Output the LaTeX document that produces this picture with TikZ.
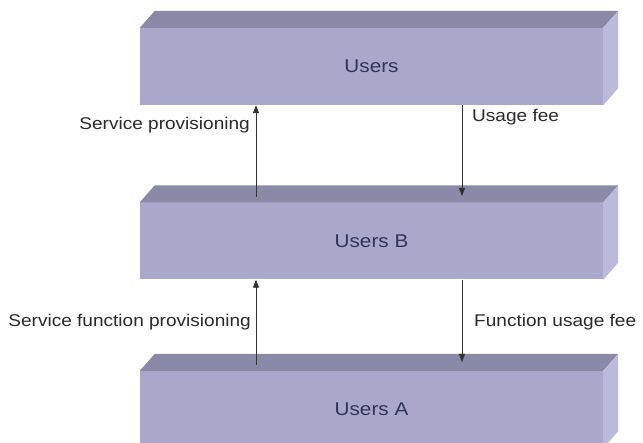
\documentclass[tikz,border=0pt]{standalone}
\usepackage{fontspec}
\setmainfont{Liberation Sans}
\newfontfamily\lblfont[FakeStretch=1.12]{Liberation Sans}
\usetikzlibrary{arrows.meta,calc}
\definecolor{frontc}{HTML}{A9A8CB}
\definecolor{topc}{HTML}{8B89A8}
\definecolor{sidec}{HTML}{BBBADB}
\definecolor{boxtext}{HTML}{34345A}
\definecolor{lbltext}{HTML}{2A2A2A}
\tikzset{
  layerbox/.style={rectangle, fill=frontc, draw=none, minimum width=463pt, minimum height=77pt,
    inner sep=0pt, font=\lblfont\fontsize{18.5}{20}\selectfont, text=boxtext},
  topface/.style={fill=topc, draw=none},
  sideface/.style={fill=sidec, draw=none},
  flow/.style={draw=black!80, line width=0.8pt, -{Triangle[length=8pt,width=6pt]}},
  lbl/.style={font=\lblfont\fontsize{17}{19}\selectfont, text=lbltext, inner sep=0pt}
}
\begin{document}
\begin{tikzpicture}[x=1pt,y=-1pt]
\useasboundingbox (0,0) rectangle (643,443);
\clip (0,0) rectangle (643,443);
\fill[white] (0,0) rectangle (643,443);
% boxes
\foreach \nm/\cy/\txt in {uT/66.5/Users, uB/241/Users B, uA/409.5/Users A}{
  \node[layerbox] (\nm) at (371.5,\cy) {\txt};
  \fill[topface] (\nm.north west) -- ++(15,-17) -- ($(\nm.north east)+(15,-17)$) -- (\nm.north east) -- cycle;
  \fill[sideface] (\nm.north east) -- ++(15,-17) -- ($(\nm.south east)+(15,-17)$) -- (\nm.south east) -- cycle;
}
% anchors for connectors
\coordinate (l1) at (256,197);
\coordinate (r1) at (462,196);
\coordinate (l2) at (256,365);
\coordinate (r2) at (462,362);
\draw[flow] (l1) -- (l1 |- uT.south);
\draw[flow] (r1 |- uT.south) -- (r1);
\draw[flow] (l2) -- (l2 |- uB.south);
\draw[flow] (r2 |- uB.south) -- (r2);
% labels
\node[lbl, anchor=east] (t1) at (250,125) {Service provisioning};
\node[lbl, anchor=west] (t2) at (472,117) {Usage fee};
\node[lbl, anchor=east] (t3) at (251,322) {Service function provisioning};
\node[lbl, anchor=west] (t4) at (474,322) {Function usage fee};
\end{tikzpicture}
\end{document}
